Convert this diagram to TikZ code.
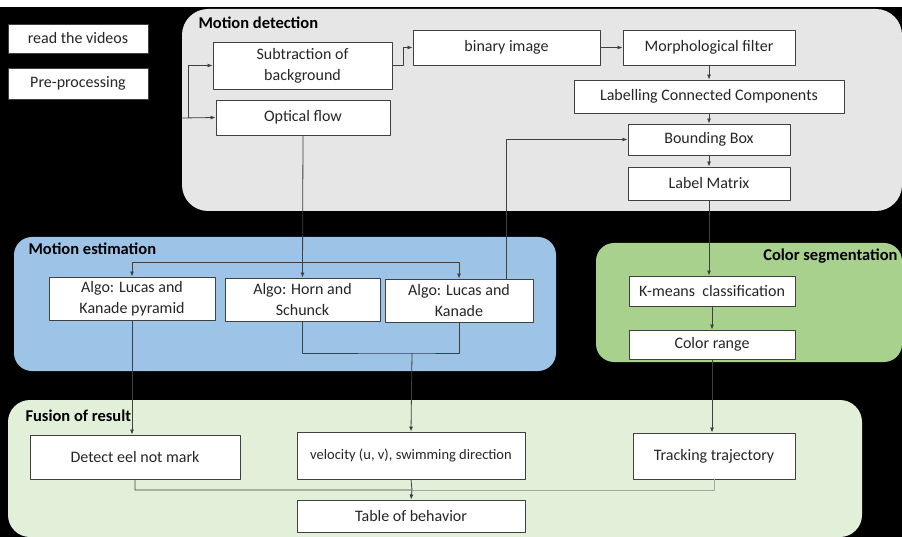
\documentclass[tikz,border=0pt]{standalone}
\usepackage{fontspec}
\setmainfont{Carlito}
\usetikzlibrary{arrows.meta,calc,positioning}
\definecolor{eelGrey}{HTML}{E7E6E6}
\definecolor{eelBlue}{HTML}{9DC3E6}
\definecolor{eelGreen}{HTML}{A9D18E}
\definecolor{eelPale}{HTML}{E2F0D9}
\definecolor{eelInk}{HTML}{262626}
\definecolor{eelLine}{HTML}{404040}

\begin{document}
\begin{tikzpicture}[x=1pt,y=-1pt,>={Latex[length=5pt,width=4pt]},line join=round]
\tikzset{stepbox/.style={draw=eelLine,fill=white,line width=0.9pt,align=center,inner sep=1pt,text=eelInk,font=\fontsize{16}{21}\selectfont},
  panel/.style={rounded corners=18pt},
  title/.style={font=\bfseries\fontsize{16.5}{19}\selectfont,text=black},
  link/.style={draw=eelLine,line width=0.8pt},
  arr/.style={link,->},
  faint/.style={draw=black!35,line width=0.6pt}}
\path[fill=black] (0,0) rectangle (902,537);
\path[fill=white] (0,0) rectangle (902,7);
% panels
\path[fill=eelGrey,panel,rounded corners=26pt] (182,9) rectangle (902,211);
\path[fill=eelBlue,panel] (14,237) rectangle (556,371);
\path[fill=eelGreen,panel] (596,243) rectangle (902,362);
\path[fill=eelPale,panel,rounded corners=22pt] (8,400) rectangle (862,537);
\node[title,anchor=west] at (195,23) {Motion detection};
\node[title,anchor=west] at (25,249) {Motion estimation};
\node[title,anchor=east] at (901,256) {Color segmentation};
\node[title,anchor=west] at (22,416) {Fusion of result};
% steps
\node[stepbox,minimum width=140pt,minimum height=29pt] (read) at (78,38.5) {read the videos};
\node[stepbox,minimum width=140pt,minimum height=31pt] (prep) at (78,83.5) {Pre-processing};
\node[stepbox,minimum width=179pt,minimum height=47pt] (sub) at (302.5,65.5) {Subtraction of\\background};
\node[stepbox,minimum width=174pt,minimum height=35pt] (opt) at (303,117.5) {Optical flow};
\node[stepbox,minimum width=187pt,minimum height=35pt] (bin) at (506.5,47.5) {binary image};
\node[stepbox,minimum width=172pt,minimum height=35pt] (morph) at (709,47.5) {Morphological filter};
\node[stepbox,minimum width=270pt,minimum height=33pt] (lcc) at (709,96.5) {Labelling Connected Components};
\node[stepbox,minimum width=162pt,minimum height=31pt] (bbox) at (709,139.5) {Bounding Box};
\node[stepbox,minimum width=162pt,minimum height=33pt] (lmat) at (709,183.5) {Label Matrix};
\node[stepbox,minimum width=166pt,minimum height=43pt] (lkp) at (132,298.5) {Algo: Lucas and\\Kanade pyramid};
\node[stepbox,minimum width=155pt,minimum height=43pt] (horn) at (302.5,299.5) {Algo: Horn and\\Schunck};
\node[stepbox,minimum width=148pt,minimum height=43pt] (lk) at (459,300.5) {Algo: Lucas and\\Kanade};
\node[stepbox,minimum width=166pt,minimum height=30pt] (kmeans) at (712,291) {K-means~ classification};
\node[stepbox,minimum width=166pt,minimum height=29pt] (crange) at (712,344.5) {Color range};
\node[stepbox,minimum width=210pt,minimum height=44pt] (eel) at (135,457) {Detect eel not mark};
\node[stepbox,minimum width=228pt,minimum height=47pt,font=\fontsize{14.5}{17}\selectfont] (vel) at (411,455.5) {velocity (u, v), swimming direction};
\node[stepbox,minimum width=162pt,minimum height=46pt] (track) at (714,456) {Tracking trajectory};
\node[stepbox,minimum width=228pt,minimum height=32pt] (table) at (411,516) {Table of behavior};
% connectors
\coordinate (feed) at (182,118); \coordinate (split) at (188,118);
\coordinate (fork) at (303,262); \coordinate (merge) at (412,353); \coordinate (join) at (412,490);
\draw[arr] (feed) -- (opt.west); \draw[arr] (split) |- (sub.west);
\draw[arr] (sub.east) -- ++(11,0) |- (bin.west); \draw[arr] (bin) -- (morph);
\draw[arr] (morph) -- (lcc); \draw[arr] (lcc) -- (bbox); \draw[arr] (bbox) -- (lmat);
\draw[arr] (lmat.south) -- (lmat.south |- kmeans.north); \draw[arr] (kmeans) -- (crange);
\draw[arr] (crange.south) -- (crange.south |- track.north);
\draw[arr] (opt.south) -- (horn.north); \draw[arr] (fork) -| (lkp.north); \draw[arr] (fork) -| (lk.north);
\draw[arr] ([xshift=47pt]lk.north) |- (bbox.west);
\draw[link] (horn.south) |- (merge) -| (lk.south); \draw[arr] (merge) -- (vel.north);
\draw[arr] (lkp.south) -- (lkp.south |- eel.north);
\draw[arr] (eel.south) |- (join) -- (table.north); \draw[link] (vel.south) -- (join);
\draw[faint] (track.south) |- (join);
\end{tikzpicture}
\end{document}
